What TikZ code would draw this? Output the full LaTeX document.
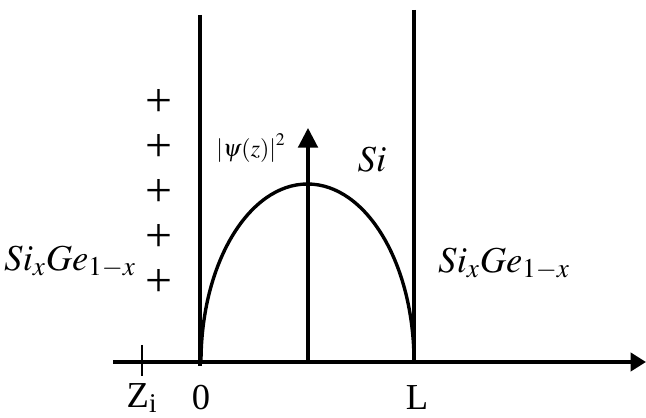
\documentclass[tikz,border=0pt]{standalone}
\usepackage{mathptmx}
\usepackage[no-math]{fontspec}
\setmainfont{Liberation Serif}
\usetikzlibrary{arrows.meta, positioning}

\begin{document}
\begin{tikzpicture}[
    x=0.025cm, y=-0.025cm,
    wall/.style={line width=2.8pt},
    axis/.style={line width=2.6pt, -{Triangle[length=11pt, width=13pt]}},
    prob/.style={line width=2.2pt, -{Triangle[length=14pt, width=14pt]}},
    wave/.style={line width=2.4pt},
    big/.style={font=\fontsize{26}{30}\selectfont, inner sep=0pt},
    lbl/.style={font=\fontsize{26}{30}\selectfont, inner sep=0pt},
    small/.style={font=\fontsize{17}{20}\selectfont, inner sep=0pt},
    charge/.style={font=\fontsize{34}{36}\selectfont, inner sep=0pt}
]
\useasboundingbox (0,0) rectangle (646,418);

% axis and walls
\coordinate (ax0) at (113,362);
\coordinate (ax1) at (646,362);
\coordinate (w0top) at (200,15);
\coordinate (w0bot) at (200,366);
\coordinate (wLtop) at (414,10);
\coordinate (wLbot) at (414,362);
\coordinate (mid) at (308,362);
\coordinate (top) at (308,128);
\coordinate (zt) at (142,345);
\coordinate (zb) at (142,376);

\draw[axis] (ax0) -- (ax1);
\draw[wall] (w0top) -- (w0bot);
\draw[wall] (wLtop) -- (wLbot);
\draw[line width=2pt] (zt) -- (zb);

% wave function
\draw[wave] (201,362) arc[start angle=180, end angle=0, x radius=106.5, y radius=-178];
\draw[prob] (mid) -- (top);

% charges
\foreach \y [count=\i] in {103,148,193,238,283}
    \node[charge] (plus\i) at (159,\y) {+};

% labels
\node[small] (psi) at (251,148) {$\left|\psi(z)\right|^2$};
\node[big] (si) at (372,160) {$Si$};
\node[big] (left) at (70,262) {$Si_xGe_{1-x}$};
\node[big] (right) at (504,264) {$Si_xGe_{1-x}$};
\node[lbl] (zi) at (142,398) {Z\textsubscript{i}};
\node[lbl] (zero) at (201,398) {0};
\node[lbl] (ell) at (417,398) {L};

\end{tikzpicture}
\end{document}
